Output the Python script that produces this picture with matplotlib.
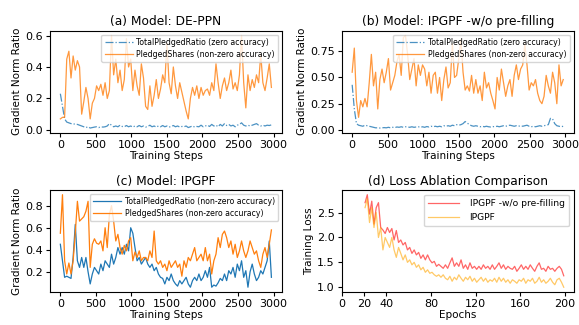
import numpy as np
import matplotlib
matplotlib.use("Agg")
from matplotlib import pyplot as plt

# training steps for panels a-c, epochs for panel d
steps = np.arange(0, 3000, 30)
epochs = np.arange(21, 200, 2)

# (a) DE-PPN
a_total = [0.23, 0.15, 0.07, 0.05, 0.045, 0.04, 0.04, 0.035, 0.035, 0.03,
           0.025, 0.02, 0.015, 0.02, 0.012, 0.015, 0.018, 0.02, 0.015, 0.02,
           0.018, 0.02, 0.025, 0.04, 0.03, 0.02, 0.025, 0.02, 0.03, 0.022,
           0.02, 0.028, 0.02, 0.025, 0.018, 0.025, 0.02, 0.028, 0.02, 0.025,
           0.018, 0.022, 0.03, 0.02, 0.025, 0.018, 0.025, 0.02, 0.028, 0.02,
           0.025, 0.018, 0.022, 0.028, 0.02, 0.025, 0.018, 0.022, 0.02, 0.025,
           0.015, 0.02, 0.025, 0.018, 0.022, 0.02, 0.03, 0.02, 0.025, 0.03,
           0.022, 0.035, 0.025, 0.03, 0.02, 0.035, 0.025, 0.04, 0.028, 0.035,
           0.025, 0.03, 0.02, 0.03, 0.035, 0.045, 0.03, 0.025, 0.03, 0.025,
           0.03, 0.035, 0.04, 0.03, 0.025, 0.03, 0.025, 0.03, 0.028, 0.032]
a_shares = [0.07, 0.08, 0.08, 0.45, 0.50, 0.33, 0.47, 0.38, 0.44, 0.40,
            0.10, 0.18, 0.27, 0.20, 0.07, 0.17, 0.20, 0.28, 0.25, 0.29,
            0.22, 0.30, 0.20, 0.25, 0.60, 0.35, 0.45, 0.30, 0.38, 0.25,
            0.32, 0.58, 0.40, 0.45, 0.25, 0.38, 0.28, 0.22, 0.42, 0.33,
            0.15, 0.13, 0.28, 0.15, 0.22, 0.32, 0.20, 0.26, 0.35, 0.30,
            0.55, 0.30, 0.23, 0.40, 0.28, 0.20, 0.30, 0.24, 0.18, 0.12,
            0.07, 0.20, 0.27, 0.22, 0.28, 0.20, 0.27, 0.22, 0.25, 0.26,
            0.22, 0.30, 0.25, 0.42, 0.30, 0.20, 0.28, 0.33, 0.25, 0.30,
            0.38, 0.26, 0.30, 0.25, 0.35, 0.60, 0.30, 0.14, 0.35, 0.25,
            0.32, 0.27, 0.35, 0.30, 0.48, 0.30, 0.25, 0.33, 0.42, 0.27]

# (b) IPGPF -w/o pre-filling
b_total = [0.43, 0.2, 0.06, 0.045, 0.04, 0.035, 0.045, 0.04, 0.035, 0.03,
           0.025, 0.02, 0.02, 0.018, 0.02, 0.022, 0.02, 0.025, 0.02, 0.025,
           0.022, 0.028, 0.025, 0.03, 0.025, 0.03, 0.028, 0.025, 0.03, 0.025,
           0.028, 0.03, 0.025, 0.03, 0.025, 0.032, 0.028, 0.035, 0.03, 0.035,
           0.03, 0.035, 0.03, 0.04, 0.035, 0.04, 0.035, 0.045, 0.04, 0.05,
           0.045, 0.05, 0.06, 0.08, 0.065, 0.05, 0.04, 0.035, 0.04, 0.035,
           0.03, 0.035, 0.03, 0.035, 0.03, 0.028, 0.032, 0.03, 0.035, 0.03,
           0.035, 0.04, 0.035, 0.04, 0.045, 0.04, 0.035, 0.04, 0.035, 0.04,
           0.035, 0.04, 0.045, 0.035, 0.03, 0.035, 0.03, 0.035, 0.04, 0.035,
           0.04, 0.045, 0.05, 0.11, 0.105, 0.06, 0.04, 0.035, 0.03, 0.035]
b_shares = [0.55, 0.78, 0.28, 0.12, 0.28, 0.22, 0.30, 0.22, 0.45, 0.72,
            0.42, 0.55, 0.20, 0.48, 0.58, 0.45, 0.55, 0.68, 0.38, 0.45,
            0.52, 0.65, 0.72, 0.52, 0.88, 0.90, 0.72, 0.48, 0.58, 0.68,
            0.42, 0.62, 0.52, 0.62, 0.58, 0.42, 0.55, 0.35, 0.52, 0.55,
            0.35, 0.50, 0.28, 0.48, 0.60, 0.40, 0.45, 0.82, 0.50, 0.52,
            0.68, 0.86, 0.55, 0.38, 0.42, 0.37, 0.52, 0.35, 0.48, 0.35,
            0.42, 0.28, 0.55, 0.40, 0.45, 0.35, 0.28, 0.20, 0.50, 0.38,
            0.58, 0.45, 0.32, 0.42, 0.48, 0.32, 0.52, 0.62, 0.48, 0.58,
            0.62, 0.82, 0.62, 0.38, 0.45, 0.42, 0.48, 0.35, 0.28, 0.25,
            0.32, 0.52, 0.42, 0.35, 0.55, 0.45, 0.25, 0.62, 0.42, 0.48]

# (c) IPGPF
c_total = [0.45, 0.30, 0.15, 0.16, 0.15, 0.14, 0.33, 0.63, 0.30, 0.24,
           0.33, 0.24, 0.33, 0.20, 0.09, 0.18, 0.24, 0.21, 0.18, 0.27,
           0.21, 0.30, 0.27, 0.24, 0.36, 0.27, 0.33, 0.42, 0.36, 0.42,
           0.36, 0.45, 0.39, 0.60, 0.55, 0.42, 0.30, 0.33, 0.27, 0.30,
           0.33, 0.27, 0.24, 0.27, 0.21, 0.24, 0.18, 0.15, 0.14, 0.09,
           0.15, 0.12, 0.18, 0.12, 0.09, 0.07, 0.12, 0.09, 0.12, 0.15,
           0.09, 0.06, 0.12, 0.15, 0.12, 0.18, 0.12, 0.15, 0.21, 0.15,
           0.24, 0.06, 0.08, 0.07, 0.10, 0.14, 0.12, 0.18, 0.12, 0.21,
           0.18, 0.24, 0.15, 0.27, 0.21, 0.30, 0.15, 0.21, 0.06, 0.20,
           0.27, 0.18, 0.12, 0.15, 0.21, 0.18, 0.24, 0.30, 0.48, 0.15]
c_shares = [0.55, 0.90, 0.30, 0.18, 0.28, 0.18, 0.30, 0.55, 0.84, 0.66,
            0.68, 0.70, 0.75, 0.84, 0.24, 0.45, 0.50, 0.46, 0.45, 0.48,
            0.39, 0.60, 0.42, 0.72, 0.80, 0.66, 0.48, 0.54, 0.42, 0.36,
            0.44, 0.39, 0.48, 0.51, 0.30, 0.38, 0.33, 0.39, 0.30, 0.33,
            0.33, 0.30, 0.39, 0.33, 0.57, 0.30, 0.27, 0.30, 0.24, 0.27,
            0.21, 0.30, 0.24, 0.27, 0.30, 0.24, 0.27, 0.16, 0.30, 0.24,
            0.33, 0.30, 0.36, 0.42, 0.30, 0.33, 0.36, 0.30, 0.42, 0.30,
            0.36, 0.18, 0.30, 0.36, 0.51, 0.42, 0.54, 0.57, 0.51, 0.42,
            0.48, 0.36, 0.45, 0.33, 0.39, 0.48, 0.39, 0.33, 0.39, 0.48,
            0.42, 0.36, 0.39, 0.30, 0.24, 0.36, 0.42, 0.33, 0.45, 0.58]

# (d) loss ablation
loss_wo = [2.70, 2.86, 2.47, 2.73, 2.27, 2.60, 2.70, 2.20, 2.15, 2.08,
           2.20, 2.10, 2.18, 1.95, 2.14, 1.90, 1.95, 1.85, 1.90, 1.75,
           1.80, 1.68, 1.75, 1.65, 1.70, 1.58, 1.65, 1.55, 1.65, 1.55,
           1.49, 1.52, 1.42, 1.46, 1.42, 1.38, 1.45, 1.38, 1.49, 1.59,
           1.42, 1.49, 1.42, 1.55, 1.38, 1.45, 1.36, 1.49, 1.38, 1.42,
           1.36, 1.42, 1.36, 1.45, 1.38, 1.42, 1.36, 1.45, 1.36, 1.42,
           1.49, 1.38, 1.45, 1.36, 1.42, 1.38, 1.36, 1.42, 1.32, 1.38,
           1.45, 1.36, 1.42, 1.36, 1.45, 1.38, 1.32, 1.42, 1.49, 1.36,
           1.38, 1.32, 1.42, 1.36, 1.38, 1.32, 1.38, 1.42, 1.36, 1.23]
loss_full = [2.60, 2.78, 2.30, 2.60, 2.20, 2.50, 2.00, 2.20, 1.75, 2.00,
             1.90, 1.80, 2.00, 1.75, 1.60, 1.80, 1.68, 1.55, 1.65, 1.50,
             1.55, 1.45, 1.50, 1.40, 1.45, 1.35, 1.40, 1.30, 1.35, 1.28,
             1.30, 1.25, 1.22, 1.25, 1.20, 1.25, 1.18, 1.15, 1.22, 1.12,
             1.20, 1.15, 1.25, 1.18, 1.12, 1.20, 1.15, 1.22, 1.12, 1.18,
             1.10, 1.15, 1.20, 1.12, 1.18, 1.10, 1.15, 1.12, 1.18, 1.10,
             1.20, 1.12, 1.18, 1.10, 1.15, 1.08, 1.15, 1.12, 1.08, 1.15,
             1.12, 1.18, 1.08, 1.15, 1.12, 1.18, 1.08, 1.12, 1.20, 1.10,
             1.15, 1.08, 1.12, 1.18, 1.10, 1.05, 1.15, 1.18, 1.10, 1.00]

fig, axes = plt.subplots(2, 2, figsize=(5.79, 3.25), dpi=100)
plt.subplots_adjust(left=0.086, right=0.991, top=0.905, bottom=0.102,
                    wspace=0.257, hspace=0.564)

leg_kw = dict(loc="upper right", fontsize=5.6, handlelength=3.6,
              handletextpad=0.5, borderpad=0.4, labelspacing=0.35)

ax = axes[0, 0]
ax.plot(steps, a_total, color="C0", linestyle="-.", lw=0.9, alpha=0.8,
        label="TotalPledgedRatio (zero accuracy)")
ax.plot(steps, a_shares, color="C1", lw=0.9, alpha=0.8,
        label="PledgedShares (non-zero accuracy)")
ax.set_title("(a) Model: DE-PPN", fontsize=8.8, pad=4)
ax.legend(**leg_kw)

ax = axes[0, 1]
ax.plot(steps, b_total, color="C0", linestyle="-.", lw=0.9, alpha=0.8,
        label="TotalPledgedRatio (zero accuracy)")
ax.plot(steps, b_shares, color="C1", lw=0.9, alpha=0.8,
        label="PledgedShares (non-zero accuracy)")
ax.set_title("(b) Model: IPGPF -w/o pre-filling", fontsize=8.8, pad=4)
ax.set_yticks([0.0, 0.25, 0.5, 0.75])
ax.legend(**leg_kw)

ax = axes[1, 0]
ax.plot(steps, c_total, color="C0", lw=0.9,
        label="TotalPledgedRatio (non-zero accuracy)")
ax.plot(steps, c_shares, color="C1", lw=0.9,
        label="PledgedShares (non-zero accuracy)")
ax.set_title("(c) Model: IPGPF", fontsize=8.8, pad=4)
ax.set_yticks([0.2, 0.4, 0.6, 0.8])
ax.legend(**leg_kw)

for ax in [axes[0, 0], axes[0, 1], axes[1, 0]]:
    ax.set_xlabel("Training Steps", fontsize=7.5, labelpad=1)
    ax.set_ylabel("Gradient Norm Ratio", fontsize=7.5, labelpad=2)
    ax.set_xticks([0, 500, 1000, 1500, 2000, 2500, 3000])
    ax.tick_params(labelsize=8, length=3, pad=2)

ax = axes[1, 1]
ax.plot(epochs, loss_wo, color="red", lw=0.9, alpha=0.6,
        label="IPGPF -w/o pre-filling")
ax.plot(epochs, loss_full, color="orange", lw=0.9, alpha=0.6,
        label="IPGPF")
ax.set_title("(d) Loss Ablation Comparison", fontsize=8.8, pad=4)
ax.set_xlabel("Epochs", fontsize=7.5, labelpad=1)
ax.set_ylabel("Training Loss", fontsize=7.5, labelpad=2)
ax.set_xlim(0, 208)
ax.set_xticks([0, 20, 40, 80, 120, 160, 200])
ax.set_yticks([1.0, 1.5, 2.0, 2.5])
ax.tick_params(labelsize=8, length=3, pad=2)
ax.legend(loc="upper right", fontsize=6.6, handlelength=3.3,
          handletextpad=1.2, borderpad=0.5)

fig.savefig("out.png", dpi=100)
